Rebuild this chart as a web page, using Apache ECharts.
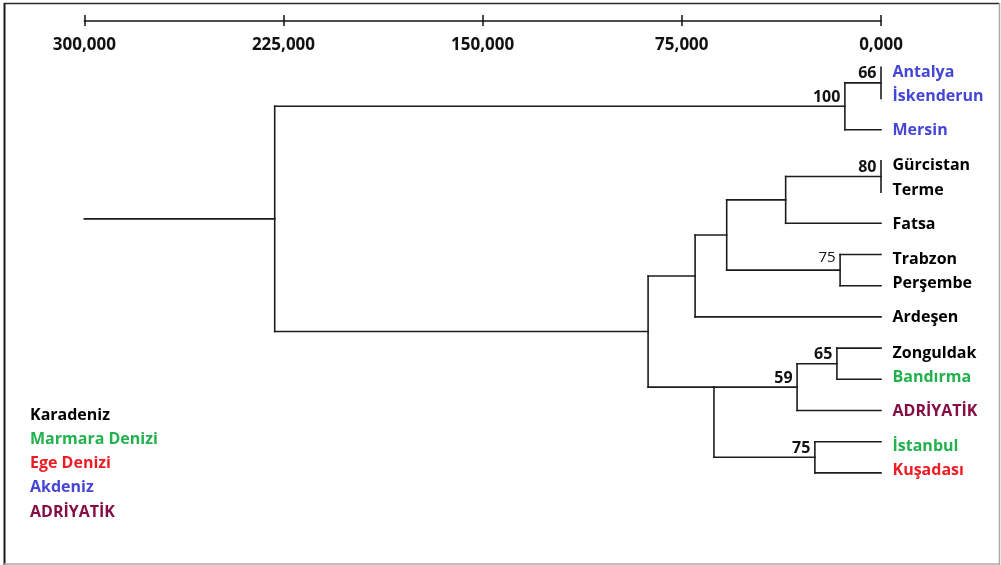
<!DOCTYPE html>
<html>
<head>
<meta charset="utf-8">
<title>Dendrogram</title>
<script src="https://cdn.jsdelivr.net/npm/echarts@6/dist/echarts.min.js"></script>
<style>
  html, body { margin: 0; padding: 0; background: #ffffff; }
  #chart { width: 1001px; height: 565px; }
</style>
</head>
<body>
<div id="chart"></div>
<script>
// Leaves, top to bottom
const leafNames = ['Antalya', 'İskenderun', 'Mersin', 'Gürcistan', 'Terme', 'Fatsa', 'Trabzon',
  'Perşembe', 'Ardeşen', 'Zonguldak', 'Bandırma', 'ADRİYATİK', 'İstanbul', 'Kuşadası'];
const leafRegions = ['Akdeniz', 'Akdeniz', 'Akdeniz', 'Karadeniz', 'Karadeniz', 'Karadeniz', 'Karadeniz',
  'Karadeniz', 'Karadeniz', 'Karadeniz', 'Marmara Denizi', 'ADRİYATİK', 'Marmara Denizi', 'Ege Denizi'];

// Regions (legend) and their colours
const regionNames = ['Karadeniz', 'Marmara Denizi', 'Ege Denizi', 'Akdeniz', 'ADRİYATİK'];
const regionColors = ['#000000', '#22b14c', '#ee1c24', '#4646d6', '#850d45'];

// Internal nodes; node i gets id leafNames.length + i, children refer to leaf or node ids
const nodeLeft    = [0, 14, 3, 16, 6, 17, 19, 9, 21, 12, 22, 20, 15];
const nodeRight   = [1, 2, 4, 5, 7, 18, 8, 10, 11, 13, 23, 24, 25];
const nodeHeight  = [0, 13.6, 0, 35.9, 15.4, 58.1, 70.0, 16.6, 31.6, 24.9, 62.9, 87.7, 228.3];
const nodeSupport = [66, 100, 80, null, 75, null, null, 65, 59, 75, null, null, null];
// where a node's stem leaves it: midway between its children, or level with its first child
const nodeJoin    = ['mid', 'mid', 'mid', 'mid', 'mid', 'mid', 'mid', 'mid', 'mid', 'mid', 'top', 'mid', 'mid'];
const rootStemEnd = 300;

// Distance axis ticks
const axisTicks = [0, 75, 150, 225, 300];

// ---- layout of the tree in data space (x = distance, y = leaf order) ----
const nLeaves = leafNames.length;
const posX = [], posY = [];
leafNames.forEach((_, i) => { posX[i] = 0; posY[i] = i; });
const segments = [];
nodeLeft.forEach((l, i) => {
  const id = nLeaves + i, r = nodeRight[i], h = nodeHeight[i];
  posX[id] = h;
  posY[id] = nodeJoin[i] === 'top' ? posY[l] : (posY[l] + posY[r]) / 2;
  segments.push([h, posY[l], h, posY[r]]);
  segments.push([posX[l], posY[l], h, posY[l]]);
  segments.push([posX[r], posY[r], h, posY[r]]);
});
const rootId = nLeaves + nodeLeft.length - 1;
segments.push([posX[rootId], posY[rootId], rootStemEnd, posY[rootId]]);

// leaf label nudges: labels of sibling leaves sit a little closer together
const parentOf = {};
nodeLeft.forEach((l, i) => { parentOf[l] = i; parentOf[nodeRight[i]] = i; });
function leafNudge(i) {
  const p = parentOf[i];
  const pairLeaves = nodeLeft[p] < nLeaves && nodeRight[p] < nLeaves;
  if (!pairLeaves) return 1;
  return nodeLeft[p] === i ? 5 : -2;
}

const FONT = '"Open Sans", "Noto Sans", sans-serif';
const lightSupport = [4];
const hiddenMark = { color: 'rgba(0,0,0,0)', opacity: 1 };

const leafSeries = regionNames.map((reg, k) => ({
  type: 'scatter',
  name: reg,
  silent: true,
  symbolSize: 1,
  itemStyle: hiddenMark,
  data: leafNames.map((nm, i) => ({ nm, i })).filter(d => leafRegions[d.i] === reg).map(d => ({
    name: d.nm,
    value: [0, d.i],
    label: { offset: [0, leafNudge(d.i)] }
  })),
  label: {
    show: true, position: 'right', distance: 11, formatter: '{b}',
    color: regionColors[k], fontFamily: FONT, fontWeight: 'bold', fontSize: 16
  },
  z: 5
}));

const supportData = [];
nodeSupport.forEach((s, i) => {
  if (s == null) return;
  const id = nLeaves + i;
  const light = lightSupport.indexOf(i) >= 0;
  supportData.push({
    value: [posX[id], posY[id], s],
    label: light ? { fontWeight: 'normal', fontSize: 15, offset: [0, -12] } : {}
  });
});

const chart = echarts.init(document.getElementById('chart'), null, { renderer: 'canvas' });
chart.setOption({
  animation: false,
  backgroundColor: '#ffffff',
  grid: { left: 84.3, right: 120, top: 20.5, bottom: 60.9, containLabel: false },
  xAxis: [{
    type: 'value', position: 'top', inverse: true, min: 0, max: 300, interval: 75,
    axisLine: { show: true, onZero: false, lineStyle: { color: '#111', width: 1.5 } },
    axisTick: { show: true, inside: true, length: 5.5, lineStyle: { color: '#111', width: 1.5 } },
    axisLabel: {
      show: true, inside: true, margin: 16, showMinLabel: true, showMaxLabel: true,
      color: '#111', fontFamily: FONT, fontWeight: 'bold', fontSize: 17,
      formatter: v => axisTicks.indexOf(v) >= 0 ? v.toFixed(3).replace('.', ',') : ''
    },
    splitLine: { show: false }
  }, {
    type: 'value', position: 'top', inverse: true, min: 0, max: 300, interval: 75,
    axisLine: { show: false, onZero: false },
    axisTick: { show: true, inside: false, length: 5.5, lineStyle: { color: '#111', width: 1.5 } },
    axisLabel: { show: false },
    splitLine: { show: false }
  }],
  yAxis: { type: 'value', inverse: true, min: -1.5, max: 14, show: false },
  legend: {
    orient: 'vertical', left: 20, top: 400, icon: 'none', itemWidth: 0, itemHeight: 0,
    itemGap: 4.3, selectedMode: false,
    textStyle: { fontFamily: FONT, fontWeight: 'bold', fontSize: 16, lineHeight: 20 },
    data: regionNames.map((r, k) => ({ name: r, textStyle: { color: regionColors[k] } }))
  },
  graphic: [
    { type: 'line', shape: { x1: 4, y1: 3.5, x2: 999, y2: 3.5 }, style: { stroke: '#2a2a2a', lineWidth: 1.5 } },
    { type: 'line', shape: { x1: 4.5, y1: 3, x2: 4.5, y2: 565 }, style: { stroke: '#1a1a1a', lineWidth: 2 } },
    { type: 'line', shape: { x1: 999.5, y1: 3, x2: 999.5, y2: 565 }, style: { stroke: '#a8a8a8', lineWidth: 1.5 } },
    { type: 'line', shape: { x1: 4, y1: 564, x2: 1000, y2: 564 }, style: { stroke: '#a8a8a8', lineWidth: 1.5 } }
  ],
  series: [{
    type: 'custom',
    name: 'tree',
    silent: true,
    clip: false,
    encode: { x: [0, 2], y: [1, 3] },
    data: segments,
    renderItem: (params, api) => {
      const p1 = api.coord([api.value(0), api.value(1)]);
      const p2 = api.coord([api.value(2), api.value(3)]);
      return {
        type: 'line',
        shape: { x1: p1[0], y1: p1[1], x2: p2[0], y2: p2[1] },
        style: { stroke: '#1c1c1c', lineWidth: 1.6, lineCap: 'square' }
      };
    }
  }, {
    type: 'scatter',
    name: 'support',
    silent: true,
    symbolSize: 1,
    itemStyle: hiddenMark,
    data: supportData,
    label: {
      show: true, position: 'left', distance: 4, offset: [0, -9],
      formatter: p => String(p.value[2]),
      color: '#111', fontFamily: FONT, fontWeight: 'bold', fontSize: 16
    },
    z: 5
  }].concat(leafSeries)
});
</script>
</body>
</html>
